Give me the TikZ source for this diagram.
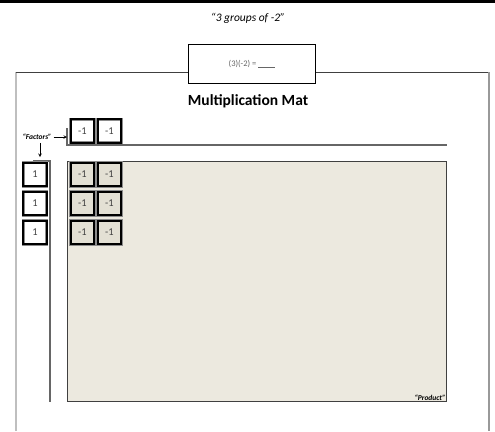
\documentclass[tikz,border=0pt]{standalone}
\usepackage{fontspec}
\setmainfont{Carlito}
\definecolor{matfill}{HTML}{ECE9DF}
\definecolor{tilefill}{HTML}{E3E0D4}
\begin{document}
\begin{tikzpicture}[x=1pt,y=-1pt,
  tile/.style={draw=black,line width=1.7pt,minimum size=23.5pt,inner sep=0pt,
    preaction={draw=black!45,line width=2.9pt},
    font=\fontsize{10.5}{11}\selectfont,text=black!75},
  mattile/.style={tile,fill=tilefill},
  note/.style={font=\fontsize{7.5}{8}\bfseries\itshape\selectfont}]
  \useasboundingbox (0,0) rectangle (495,431);
  \fill (0,0) rectangle (495,3);
  \node[font=\fontsize{11.5}{12}\itshape\selectfont] (title) at (248,18) {“3 groups of -2”};
  % mat frame
  \draw[black!25,line width=1.2pt] (16,431) -- (16,72);
  \draw[black!75,line width=1pt] (16,72) -- (489,72);
  \draw[black!40,line width=1.2pt] (489,72) -- (489,431);
  \node[draw,line width=1.4pt,fill=white,minimum width=127pt,minimum height=39pt,
    font=\fontsize{8.5}{9}\selectfont,text=black!60] (eq) at (252,64) {(3)(-2) = \rule[-0.5pt]{17pt}{0.5pt}};
  \node[font=\fontsize{15.5}{16}\bfseries\selectfont] (head) at (248,101) {Multiplication Mat};
  % factors
  \node[note,inner sep=1pt] (factors) at (37,137) {“Factors”};
  \draw[black!60,line width=1.2pt] (67,128) -- (67,145) -- (447,145);
  \draw[black!60,line width=1.2pt] (33,161) -- (50,161) -- (50,402);
  \coordinate (topfac) at (67,137);
  \coordinate (leftfac) at (40,157);
  \draw[-stealth,line width=0.6pt] (factors.east) ++(1,0) -- (topfac);
  \draw[-stealth,line width=0.6pt] (factors.south -| leftfac) ++(0,2) -- (leftfac);
  \node[tile] (top1) at (82.5,131) {-1};
  \node[tile] (top2) at (109.5,131) {-1};
  % product
  \node[draw=black!75,line width=1.5pt,fill=matfill,minimum width=379pt,minimum height=240pt] (mat) at (257,281.5) {};
  \node[note,anchor=south east,inner sep=1.5pt] (product) at (mat.south east) {“Product”};
  \foreach \r/\y in {1/174.5,2/203.5,3/232.5} {
    \node[tile] (one\r) at (35,\y) {1};
    \node[mattile] (m\r a) at (82.5,\y) {-1};
    \node[mattile] (m\r b) at (109.5,\y) {-1};
  }
\end{tikzpicture}
\end{document}
